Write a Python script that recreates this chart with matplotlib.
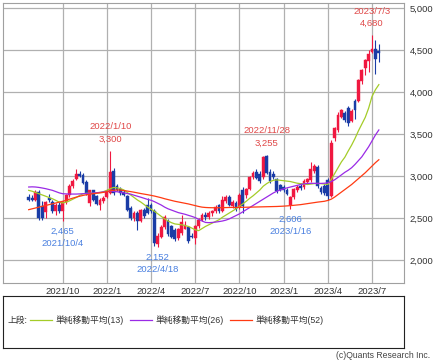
import matplotlib
matplotlib.use("Agg")
import matplotlib.pyplot as plt
import matplotlib.dates as mdates
import numpy as np
import pandas as pd

plt.rcParams['font.family'] = ['Liberation Sans', 'Noto Sans CJK JP', 'DejaVu Sans']

# weekly candles 2021/7/26 .. 2023/7/17
dates = pd.date_range("2021-07-26", periods=104, freq="7D")

opens = [2745, 2735, 2720, 2805, 2640, 2575, 2740, 2690, 2580, 2660,
         2590, 2690, 2770, 2880, 2960, 3020, 3010, 2930, 2680, 2830,
         2760, 2660, 2700, 2750, 2800, 3060, 2880, 2850, 2810, 2760,
         2620, 2500, 2560, 2470, 2600, 2650, 2650, 2590, 2190, 2280,
         2390, 2460, 2400, 2360, 2260, 2320, 2370, 2390, 2290, 2260,
         2400, 2480, 2540, 2510, 2560, 2580, 2650, 2590, 2700, 2750,
         2640, 2680, 2630, 2840, 2770, 2850, 2990, 3050, 3030, 2990,
         3240, 3050, 3030, 2960, 2890, 2870, 2840, 2660, 2750, 2830,
         2880, 2870, 2930, 2950, 3060, 3110, 2860, 2880, 2950, 2760,
         3450, 3550, 3710, 3750, 3810, 3660, 3900, 3900, 4130, 4290,
         4370, 4480, 4520, 4490]
highs = [2790, 2770, 2840, 2830, 2700, 2700, 2790, 2720, 2680, 2690,
         2700, 2790, 2900, 2960, 3080, 3060, 3040, 2950, 2840, 2840,
         2780, 2740, 2760, 2850, 3300, 3100, 2900, 2870, 2830, 2770,
         2640, 2580, 2580, 2610, 2620, 2740, 2680, 2610, 2320, 2420,
         2540, 2490, 2420, 2380, 2380, 2540, 2460, 2400, 2320, 2420,
         2500, 2560, 2570, 2580, 2600, 2650, 2670, 2760, 2780, 2770,
         2720, 2700, 2800, 2870, 2860, 3000, 3060, 3080, 3060, 3240,
         3255, 3080, 3060, 2980, 2910, 2890, 2860, 2760, 2860, 2890,
         2920, 2960, 2980, 3170, 3140, 3130, 2880, 2900, 2980, 3430,
         3590, 3760, 3800, 3770, 3830, 3800, 3920, 4160, 4280, 4400,
         4500, 4680, 4620, 4580]
lows = [2700, 2700, 2705, 2480, 2480, 2500, 2690, 2560, 2540, 2560,
        2465, 2670, 2750, 2860, 2950, 2990, 2900, 2780, 2640, 2700,
        2650, 2600, 2680, 2740, 2790, 2780, 2820, 2780, 2760, 2580,
        2480, 2460, 2357, 2450, 2500, 2550, 2560, 2170, 2152, 2260,
        2370, 2290, 2260, 2230, 2240, 2300, 2370, 2200, 2260, 2190,
        2380, 2460, 2480, 2490, 2520, 2560, 2560, 2570, 2680, 2640,
        2620, 2590, 2610, 2560, 2740, 2830, 2970, 2960, 2920, 2970,
        3020, 2920, 2960, 2800, 2820, 2810, 2780, 2606, 2730, 2810,
        2840, 2850, 2900, 2930, 3040, 2860, 2790, 2780, 2720, 2750,
        3420, 3520, 3690, 3650, 3600, 3640, 3680, 3880, 4100, 4200,
        4240, 4470, 4220, 4360]
closes = [2715, 2720, 2815, 2500, 2500, 2690, 2720, 2580, 2660, 2590,
          2690, 2770, 2880, 2940, 3020, 3005, 2920, 2800, 2830, 2720,
          2670, 2720, 2740, 2820, 3050, 2800, 2840, 2800, 2780, 2600,
          2500, 2560, 2460, 2595, 2520, 2560, 2580, 2200, 2290, 2390,
          2510, 2310, 2280, 2250, 2370, 2450, 2420, 2230, 2270, 2400,
          2480, 2540, 2510, 2560, 2580, 2630, 2580, 2720, 2750, 2660,
          2690, 2610, 2770, 2640, 2850, 2990, 3040, 2980, 2940, 3230,
          3040, 2940, 2990, 2820, 2840, 2830, 2790, 2750, 2850, 2870,
          2860, 2940, 2960, 3080, 3120, 2880, 2810, 2800, 2760, 3390,
          3570, 3730, 3790, 3670, 3630, 3780, 3790, 4150, 4270, 4380,
          4460, 4510, 4400, 4470]

sma13 = [2830, 2820, 2805, 2790, 2775, 2760, 2745, 2730, 2710, 2690,
         2680, 2690, 2705, 2725, 2745, 2770, 2790, 2795, 2795, 2795,
         2800, 2805, 2815, 2830, 2850, 2865, 2860, 2850, 2835, 2805,
         2775, 2745, 2715, 2690, 2660, 2630, 2605, 2580, 2550, 2520,
         2490, 2465, 2445, 2430, 2425, 2420, 2410, 2400, 2380, 2360,
         2350, 2375, 2400, 2420, 2440, 2460, 2480, 2510, 2535, 2560,
         2585, 2610, 2640, 2670, 2700, 2735, 2765, 2800, 2835, 2880,
         2910, 2935, 2950, 2955, 2950, 2945, 2940, 2935, 2925, 2915,
         2910, 2905, 2900, 2905, 2910, 2912, 2910, 2905, 2900, 2960,
         3030, 3100, 3170, 3225, 3300, 3370, 3450, 3540, 3620, 3700,
         3810, 3950, 4030, 4090]
sma26 = [2870, 2872, 2870, 2865, 2858, 2850, 2840, 2830, 2815, 2800,
         2790, 2788, 2786, 2786, 2786, 2788, 2790, 2792, 2794, 2798,
         2802, 2806, 2812, 2818, 2820, 2818, 2813, 2808, 2800, 2792,
         2785, 2772, 2760, 2748, 2735, 2722, 2712, 2695, 2675, 2655,
         2630, 2610, 2595, 2580, 2565, 2555, 2545, 2532, 2520, 2505,
         2485, 2465, 2448, 2445, 2448, 2452, 2458, 2465, 2475, 2490,
         2510, 2530, 2550, 2575, 2600, 2625, 2650, 2675, 2700, 2725,
         2750, 2775, 2800, 2820, 2835, 2848, 2860, 2870, 2880, 2890,
         2900, 2908, 2912, 2914, 2914, 2913, 2913, 2915, 2920, 2935,
         2956, 2985, 3015, 3045, 3070, 3100, 3140, 3185, 3230, 3290,
         3350, 3420, 3490, 3550]
sma52 = [2600, 2610, 2620, 2630, 2640, 2650, 2660, 2670, 2680, 2690,
         2700, 2712, 2725, 2738, 2750, 2760, 2770, 2778, 2785, 2790,
         2796, 2800, 2806, 2815, 2825, 2832, 2835, 2833, 2828, 2822,
         2815, 2808, 2800, 2792, 2785, 2778, 2770, 2762, 2752, 2742,
         2730, 2720, 2710, 2700, 2692, 2684, 2676, 2668, 2658, 2648,
         2638, 2630, 2626, 2624, 2623, 2623, 2623, 2624, 2625, 2626,
         2627, 2627, 2627, 2628, 2629, 2630, 2631, 2632, 2633, 2634,
         2635, 2636, 2637, 2638, 2640, 2642, 2645, 2648, 2652, 2656,
         2660, 2666, 2672, 2678, 2684, 2690, 2695, 2700, 2710, 2725,
         2750, 2780, 2810, 2840, 2870, 2900, 2935, 2970, 3005, 3040,
         3080, 3120, 3160, 3195]

yticks = [2000, 2500, 3000, 3500, 4000, 4500, 5000]
tick_dates = ["2021-10-04", "2022-01-03", "2022-04-04", "2022-07-04",
              "2022-10-03", "2023-01-02", "2023-04-03", "2023-07-03"]
tick_labels = ["2021/10", "2022/1", "2022/4", "2022/7",
               "2022/10", "2023/1", "2023/4", "2023/7"]

highlights = [("2023-07-03", 4680, "2023/7/3", "4,680", "high"),
              ("2022-01-10", 3300, "2022/1/10", "3,300", "high"),
              ("2022-11-28", 3255, "2022/11/28", "3,255", "high"),
              ("2021-10-04", 2465, "2021/10/4", "2,465", "low"),
              ("2022-04-18", 2152, "2022/4/18", "2,152", "low"),
              ("2023-01-16", 2606, "2023/1/16", "2,606", "low")]

W, H = 443, 364
fig = plt.figure(figsize=(W / 100, H / 100), dpi=100)
ax = fig.add_axes([3 / W, 1 - 283 / H, 401 / W, 280 / H])

x = mdates.date2num(dates)
o = np.array(opens); hi = np.array(highs); lo = np.array(lows); c = np.array(closes)
up = c >= o
red = '#f01840'
blue = '#1a3ca6'
cols = np.where(up, red, blue)

ax.vlines(x, lo, hi, colors=cols, lw=0.8, zorder=3)
body_b = np.minimum(o, c)
body_h = np.maximum(np.abs(c - o), 8)
ax.bar(x, body_h, bottom=body_b, width=5.8, color=cols, edgecolor=cols, lw=0.3, zorder=4)

ax.plot(x, sma13, color='#a4cc28', lw=0.9, zorder=5)
ax.plot(x, sma26, color='#9a2ae6', lw=0.9, zorder=5)
ax.plot(x, sma52, color='#ff3a12', lw=0.9, zorder=5)

ref = mdates.date2num(pd.Timestamp("2021-10-04"))
ax.set_xlim(ref - 17.56 * 7, ref + 100.4 * 7)
ax.set_ylim(1726, 5063)

ax.set_yticks(yticks)
ax.set_yticklabels([f"{v:,}" for v in yticks], fontsize=6.8, color='#333333')
ax.yaxis.tick_right()
ax.tick_params(axis='y', length=0, pad=4)
ax.set_xticks(mdates.date2num(pd.to_datetime(tick_dates)))
ax.set_xticklabels(tick_labels, fontsize=6.8, color='#333333')
ax.tick_params(axis='x', length=0, pad=3)
ax.grid(True, color='#b0b0b0', lw=0.9)
ax.set_axisbelow(True)
for s in ax.spines.values():
    s.set_color('#a0a0a0')
    s.set_linewidth(0.8)

for d, v, dl, vl, kind in highlights:
    xd = mdates.date2num(pd.Timestamp(d))
    if kind == "high":
        ax.annotate(vl, (xd, v), xytext=(0, 5), textcoords='offset points',
                    ha='center', va='bottom', fontsize=6.8, color='#e04848')
        ax.annotate(dl, (xd, v), xytext=(0, 14), textcoords='offset points',
                    ha='center', va='bottom', fontsize=6.8, color='#e04848')
    else:
        ax.annotate(vl, (xd, v), xytext=(0, -4), textcoords='offset points',
                    ha='center', va='top', fontsize=6.8, color='#4a80e0')
        ax.annotate(dl, (xd, v), xytext=(0, -13), textcoords='offset points',
                    ha='center', va='top', fontsize=6.8, color='#4a80e0')

# legend box
lax = fig.add_axes([3 / W, 1 - 348 / H, 401 / W, 52 / H])
lax.set_xlim(0, 401); lax.set_ylim(52, 0)
lax.set_xticks([]); lax.set_yticks([])
for s in lax.spines.values():
    s.set_color('#222222'); s.set_linewidth(0.8)
ly = 24
lax.text(5, ly, "上段:", fontsize=6.3, va='center', ha='left', color='#333333')
items = [(27, '#a4cc28', "単純移動平均(13)"), (127, '#9a2ae6', "単純移動平均(26)"),
         (227, '#ff3a12', "単純移動平均(52)")]
for x0, col, lab in items:
    lax.plot([x0, x0 + 22], [ly, ly], color=col, lw=0.9)
    lax.text(x0 + 25, ly, lab, fontsize=6.3, va='center', ha='left', color='#333333')

fig.text(430 / W, 1 - 356 / H, "(c)Quants Research Inc.", fontsize=6.2,
         ha='right', va='center', color='#444444')

fig.savefig("out.png", dpi=100)
